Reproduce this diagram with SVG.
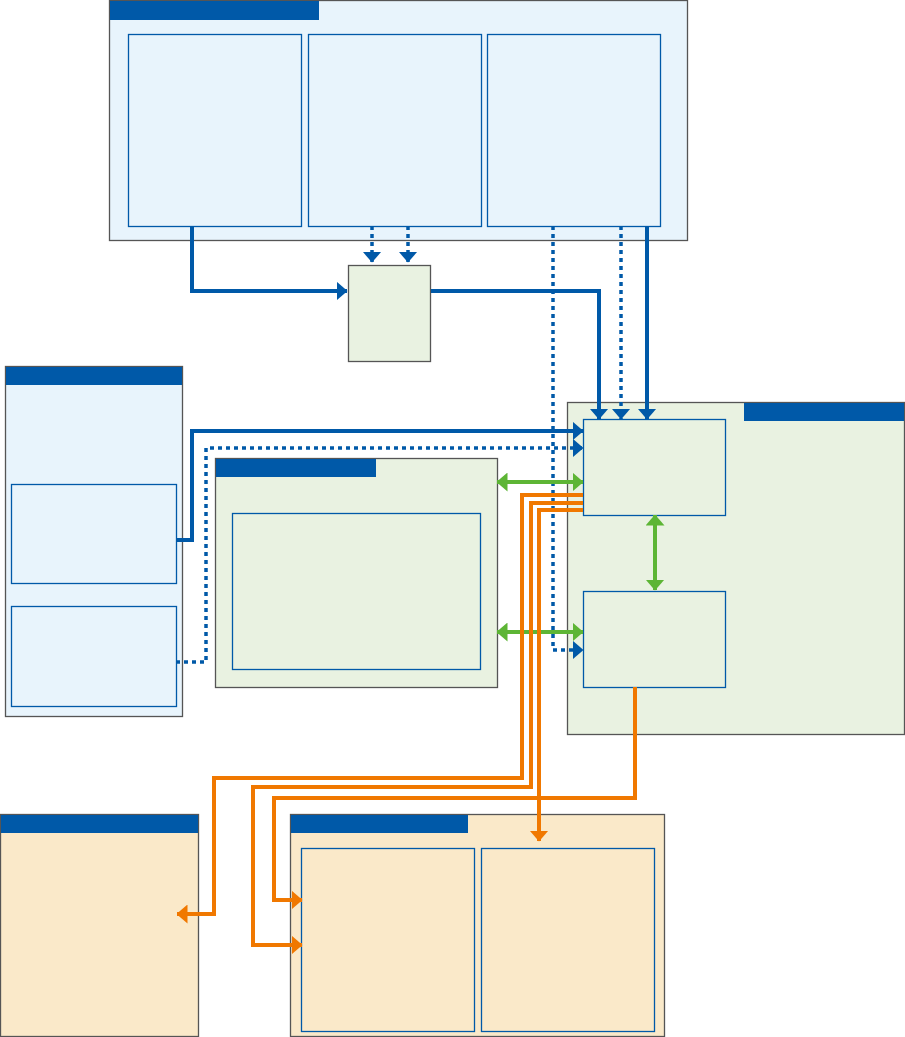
<svg xmlns="http://www.w3.org/2000/svg" width="905" height="1037" viewBox="0 0 905 1037">
<style>
.cb{fill:#e8f4fc;stroke:#555;stroke-width:1.3}
.cg{fill:#e9f2e1;stroke:#555;stroke-width:1.3}
.co{fill:#fae9c9;stroke:#555;stroke-width:1.3}
.hd{fill:#0059a8;stroke:none}
.in{fill:none;stroke:#0059a8;stroke-width:1.3}
.lb{fill:none;stroke:#0059a8;stroke-width:4}
.ld{fill:none;stroke:#0059a8;stroke-width:3.5;stroke-dasharray:4 4}
.lg{fill:none;stroke:#5db535;stroke-width:4}
.lo{fill:none;stroke:#f07800;stroke-width:4}
</style>
<defs>
<marker id="ab" viewBox="0 0 11 19" refX="10.5" refY="9.5" markerWidth="11" markerHeight="19" markerUnits="userSpaceOnUse" orient="auto-start-reverse"><path d="M0,0 L11,9.5 L0,19 z" fill="#0059a8"/></marker>
<marker id="ag" viewBox="0 0 11 19" refX="10.5" refY="9.5" markerWidth="11" markerHeight="19" markerUnits="userSpaceOnUse" orient="auto-start-reverse"><path d="M0,0 L11,9.5 L0,19 z" fill="#5db535"/></marker>
<marker id="ao" viewBox="0 0 11 19" refX="10.5" refY="9.5" markerWidth="11" markerHeight="19" markerUnits="userSpaceOnUse" orient="auto-start-reverse"><path d="M0,0 L11,9.5 L0,19 z" fill="#f07800"/></marker>
</defs>
<g id="top-group">
<rect class="cb" x="109.5" y="0.5" width="578" height="240"/>
<rect class="hd" x="110" y="1" width="209" height="19"/>
<rect id="top-a" class="in" x="128.5" y="34.5" width="173" height="192"/>
<rect id="top-b" class="in" x="308.5" y="34.5" width="173" height="192"/>
<rect id="top-c" class="in" x="487.5" y="34.5" width="173" height="192"/>
</g>
<g id="small-node"><rect class="cg" x="348.5" y="265.5" width="82" height="96"/></g>
<g id="left-group">
<rect class="cb" x="5.5" y="366.5" width="177" height="350"/>
<rect class="hd" x="6" y="367" width="176" height="18"/>
<rect id="left-a" class="in" x="11.5" y="484.5" width="165" height="99"/>
<rect id="left-b" class="in" x="11.5" y="606.5" width="165" height="100"/>
</g>
<g id="mid-group">
<rect class="cg" x="215.5" y="458.5" width="282" height="229"/>
<rect class="hd" x="216" y="459" width="160" height="18"/>
<rect id="mid-a" class="in" x="232.5" y="513.5" width="248" height="156"/>
</g>
<g id="right-group">
<rect class="cg" x="567.5" y="402.5" width="337" height="332"/>
<rect class="hd" x="744" y="403" width="160" height="18"/>
<rect id="right-a" class="in" x="583.5" y="419.5" width="142" height="96"/>
<rect id="right-b" class="in" x="583.5" y="591.5" width="142" height="96"/>
</g>
<g id="bottom-left-group">
<rect class="co" x="0.5" y="814.5" width="198" height="222"/>
<rect class="hd" x="1" y="815" width="197" height="18"/>
</g>
<g id="bottom-group">
<rect class="co" x="290.5" y="814.5" width="374" height="222"/>
<rect class="hd" x="291" y="815" width="177" height="18"/>
<rect id="bottom-a" class="in" x="301.5" y="848.5" width="173" height="183"/>
<rect id="bottom-b" class="in" x="481.5" y="848.5" width="173" height="183"/>
</g>
<g id="connectors">
<path class="lb" d="M192,226 V291 H347" marker-end="url(#ab)"/>
<path class="ld" d="M372,226 V262" marker-end="url(#ab)"/>
<path class="ld" d="M408,226 V262" marker-end="url(#ab)"/>
<path class="lb" d="M431,291 H599 V419" marker-end="url(#ab)"/>
<path class="ld" d="M621,226 V419" marker-end="url(#ab)"/>
<path class="lb" d="M647,226 V419" marker-end="url(#ab)"/>
<path class="ld" d="M553,226 V650 H583" marker-end="url(#ab)"/>
<path class="lb" d="M176,540 H192 V431 H583" marker-end="url(#ab)"/>
<path class="ld" d="M176,662 H206 V448 H583" marker-end="url(#ab)"/>
<path class="lg" d="M497,482 H583" marker-start="url(#ag)" marker-end="url(#ag)"/>
<path class="lg" d="M497,632 H583" marker-start="url(#ag)" marker-end="url(#ag)"/>
<path class="lg" d="M655,515 V590" marker-start="url(#ag)" marker-end="url(#ag)"/>
<path class="lo" d="M583,495 H522 V778 H214 V914 H177" marker-end="url(#ao)"/>
<path class="lo" d="M583,503 H531 V787 H253 V945 H302" marker-end="url(#ao)"/>
<path class="lo" d="M583,510 H539 V841" marker-end="url(#ao)"/>
<path class="lo" d="M635,687 V798 H274 V900 H302" marker-end="url(#ao)"/>
</g>
</svg>
